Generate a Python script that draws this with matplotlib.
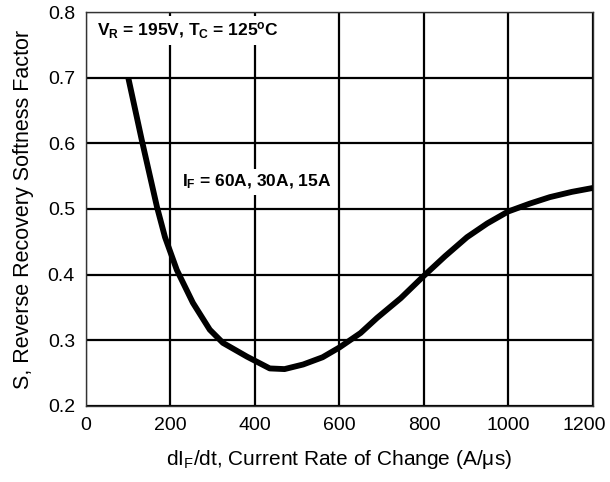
import matplotlib
matplotlib.use("Agg")
import matplotlib.pyplot as plt
from matplotlib.transforms import ScaledTranslation

plt.rcParams['font.family'] = ['Liberation Sans', 'DejaVu Sans']
plt.rcParams['mathtext.fontset'] = 'custom'
plt.rcParams['mathtext.rm'] = 'Liberation Sans'
plt.rcParams['mathtext.it'] = 'Liberation Sans:italic'
plt.rcParams['mathtext.bf'] = 'Liberation Sans:bold'

# Data
di_dt = [100, 132, 168, 187, 215, 253, 293, 324, 381, 435, 470, 514, 560,
         600, 650, 689, 745, 798, 850, 902, 950, 999, 1050, 1098, 1150, 1200]
softness = [0.700, 0.605, 0.503, 0.457, 0.407, 0.357, 0.316, 0.296, 0.275,
            0.257, 0.256, 0.263, 0.274, 0.289, 0.311, 0.334, 0.364, 0.397,
            0.428, 0.457, 0.478, 0.496, 0.508, 0.518, 0.526, 0.532]

x_ticks = [0, 200, 400, 600, 800, 1000, 1200]
y_ticks = [0.2, 0.3, 0.4, 0.5, 0.6, 0.7, 0.8]
y_tick_labels = ['0.2', '0.3', '0.4', '0.5', '0.6', '0.7', '0.8']

fig = plt.figure(figsize=(6.10, 4.82), dpi=100)
ax = fig.add_axes([0.141, 0.158, 0.831, 0.817])

ax.set_xlim(0, 1200)
ax.set_ylim(0.2, 0.8)
ax.set_xticks(x_ticks)
ax.set_yticks(y_ticks)
ax.set_yticklabels(y_tick_labels)
ax.tick_params(length=0, labelsize=14, pad=8)
ax.grid(True, color='black', linewidth=1.6, zorder=1)
for s in ax.spines.values():
    s.set_linewidth(1.0)
    s.set_color('#333333')

# keep the last x tick label inside the figure, as in the reference
last = ax.get_xticklabels()[-1]
last.set_transform(last.get_transform() + ScaledTranslation(-0.085, 0, fig.dpi_scale_trans))

ax.plot(di_dt, softness, color='black', linewidth=4.2,
        solid_joinstyle='round', solid_capstyle='butt', zorder=3)

ax.text(26, 0.772, r'V$_\mathbf{R}$ = 195V, T$_\mathbf{C}$ = 125$^\mathbf{o}$C',
        fontsize=12.5, fontweight='bold', ha='left', va='center', zorder=4,
        bbox=dict(facecolor='white', edgecolor='none', pad=3))
ax.text(227, 0.541, r'I$_\mathbf{F}$ = 60A, 30A, 15A',
        fontsize=12.5, fontweight='bold', ha='left', va='center', zorder=4,
        bbox=dict(facecolor='white', edgecolor='none', pad=3))

ax.set_xlabel(r'dI$_\mathregular{F}$/dt, Current Rate of Change (A/μs)',
              fontsize=15, labelpad=10)
ax.set_ylabel('S, Reverse Recovery Softness Factor', fontsize=15.5, labelpad=10)

fig.savefig('out.png', dpi=100)
